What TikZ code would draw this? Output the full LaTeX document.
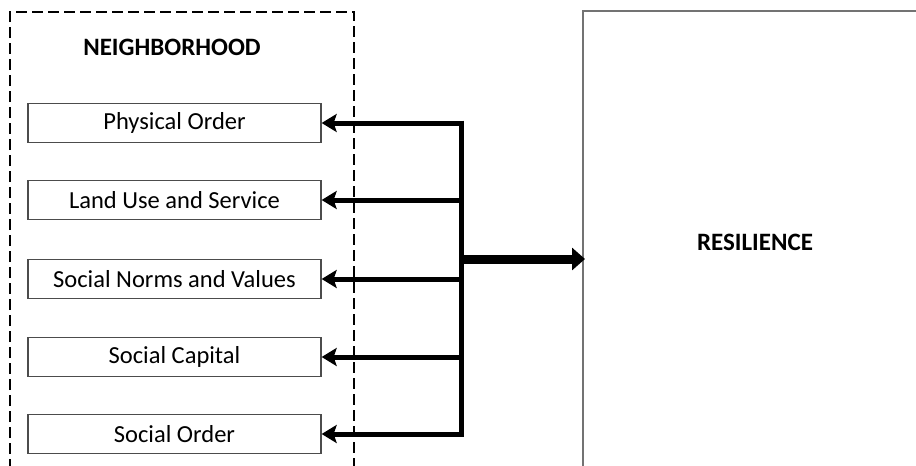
\documentclass[tikz,border=0pt]{standalone}
\usepackage{fontspec}
\setmainfont{Carlito}
\usetikzlibrary{arrows.meta}
\begin{document}
\begin{tikzpicture}[x=1pt,y=-1pt,
  item/.style={draw=black!70,line width=1.3pt,minimum width=293pt,minimum height=39pt,inner sep=0pt,font=\fontsize{24.5}{28}\selectfont},
  title/.style={font=\fontsize{25}{28}\selectfont\bfseries},
  frame/.style={draw=black,line width=1.8pt,dash pattern=on 11pt off 5pt},
  outline/.style={draw=black!55,line width=1.6pt},
  arr/.style={line width=5pt,-{Stealth[length=15pt,width=18pt,inset=3pt]}},
  bigarr/.style={line width=9pt,-{Triangle[length=13pt,width=22pt]}},
  spine/.style={line width=5pt}]
\useasboundingbox (0,0) rectangle (916,466);
% neighborhood frame (open at bottom)
\draw[frame] (10,470) -- (10,12) -- (354,12) -- (354,470);
% resilience frame (extends past the right and bottom)
\draw[outline] (583,470) -- (583,11) -- (920,11);
\node[title] (nb) at (172,47) {NEIGHBORHOOD};
\node[title] (res) at (755,242) {RESILIENCE};
\node[item] (po) at (174.5,123) {Physical Order};
\node[item] (lu) at (174.5,200) {Land Use and Service};
\node[item] (sn) at (174.5,279) {Social Norms and Values};
\node[item] (sc) at (174.5,357) {Social Capital};
\node[item] (so) at (174.5,434) {Social Order};
\coordinate (sx) at (461,0);
\coordinate (reso) at (585,259);
\coordinate (j) at (461,259);
\draw[spine] (po.east -| sx) ++(0,-2.5) -- (so.east -| sx) -- ++(0,2.5);
\draw[arr] ([xshift=2.5pt]po.east -| sx) -- (po.east);
\draw[arr] ([xshift=2.5pt]lu.east -| sx) -- (lu.east);
\draw[arr] ([xshift=2.5pt]sn.east -| sx) -- (sn.east);
\draw[arr] ([xshift=2.5pt]sc.east -| sx) -- (sc.east);
\draw[arr] ([xshift=2.5pt]so.east -| sx) -- (so.east);
\draw[bigarr] (j) -- (reso);
\end{tikzpicture}
\end{document}
